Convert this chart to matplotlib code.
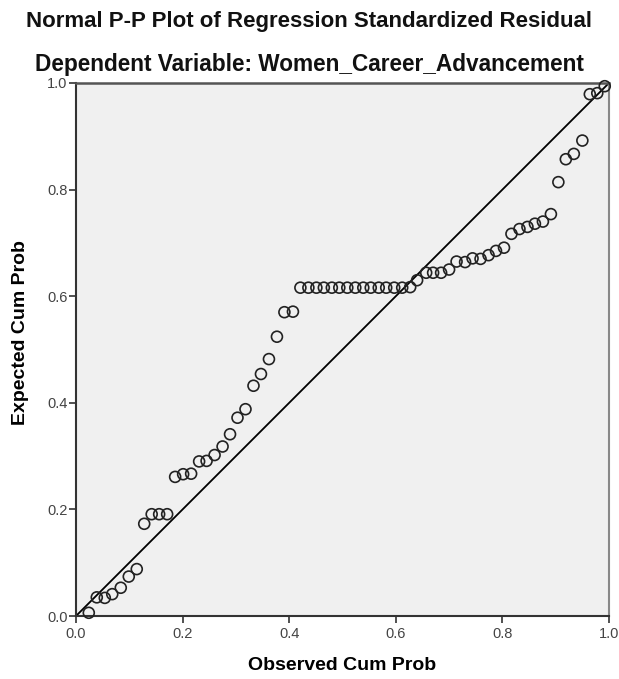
import matplotlib.pyplot as plt

# Normal P-P plot values
observed = [0.024, 0.039, 0.054, 0.068, 0.084, 0.099, 0.114, 0.128, 0.142, 0.156,
            0.171, 0.186, 0.201, 0.216, 0.231, 0.245, 0.260, 0.275, 0.289, 0.303,
            0.318, 0.333, 0.347, 0.362, 0.377, 0.391, 0.407, 0.421, 0.436, 0.451,
            0.465, 0.480, 0.494, 0.509, 0.524, 0.539, 0.553, 0.568, 0.582, 0.597,
            0.612, 0.627, 0.640, 0.657, 0.670, 0.685, 0.700, 0.714, 0.730, 0.744,
            0.759, 0.774, 0.788, 0.803, 0.817, 0.832, 0.847, 0.861, 0.876, 0.891,
            0.905, 0.919, 0.934, 0.950, 0.964, 0.978, 0.992]
expected = [0.006, 0.035, 0.034, 0.041, 0.053, 0.074, 0.088, 0.173, 0.191, 0.191,
            0.191, 0.261, 0.266, 0.267, 0.290, 0.291, 0.302, 0.318, 0.341, 0.372,
            0.388, 0.432, 0.454, 0.482, 0.524, 0.570, 0.571, 0.616, 0.616, 0.616,
            0.616, 0.616, 0.616, 0.616, 0.616, 0.616, 0.616, 0.616, 0.616, 0.616,
            0.616, 0.617, 0.630, 0.644, 0.644, 0.644, 0.650, 0.665, 0.664, 0.671,
            0.670, 0.677, 0.685, 0.691, 0.717, 0.726, 0.730, 0.736, 0.740, 0.754,
            0.814, 0.857, 0.867, 0.892, 0.979, 0.981, 0.994]
ticks = [0.0, 0.2, 0.4, 0.6, 0.8, 1.0]
tick_labels = ['0.0', '0.2', '0.4', '0.6', '0.8', '1.0']

plt.rcParams['font.family'] = ['Liberation Sans', 'DejaVu Sans']

fig = plt.figure(figsize=(6.19, 6.79), dpi=100)
ax = fig.add_axes([76 / 619, 63 / 679, 533 / 619, 533 / 679])
ax.set_facecolor('#f0f0f0')

ax.plot([0, 1], [0, 1], color='black', linewidth=1.3, zorder=2)
ax.scatter(observed, expected, s=62, facecolors='none', edgecolors='#222222',
           linewidths=1.2, zorder=3, clip_on=False)

ax.set_xlim(0, 1)
ax.set_ylim(0, 1)
ax.set_xticks(ticks)
ax.set_xticklabels(tick_labels)
ax.set_yticks(ticks)
ax.set_yticklabels(tick_labels)
ax.tick_params(direction='out', length=5, width=1.2, colors='#333333',
               labelsize=10.5, labelcolor='#444444')
ax.tick_params(axis='x', pad=3)
ax.tick_params(axis='y', pad=1)

for side in ['left', 'bottom']:
    ax.spines[side].set_color('#333333')
    ax.spines[side].set_linewidth(1.5)
ax.spines['top'].set_color('#555555')
ax.spines['right'].set_color('#888888')
ax.spines['top'].set_linewidth(1.8)
ax.spines['right'].set_linewidth(1.5)

ax.set_xlabel('Observed Cum Prob', fontsize=14, fontweight='bold')
ax.xaxis.set_label_coords(0.5, -(666 - 616) / 533, transform=ax.transAxes)
ax.xaxis.label.set_va('center')
ax.set_ylabel('Expected Cum Prob', fontsize=14, fontweight='bold')
ax.yaxis.set_label_coords(-(76 - 21) / 533, (616 - 333) / 533, transform=ax.transAxes)
ax.yaxis.label.set_va('center')

fig.text(0.5, 1 - 22 / 679, 'Normal P-P Plot of Regression Standardized Residual',
         ha='center', va='center', fontsize=16, fontweight='bold', color='#111111')
fig.text(0.5, 1 - 64 / 679, 'Dependent Variable: Women_Career_Advancement',
         ha='center', va='center', fontsize=16.3, fontweight='bold', color='#111111')

fig.savefig('out.png', dpi=100)
